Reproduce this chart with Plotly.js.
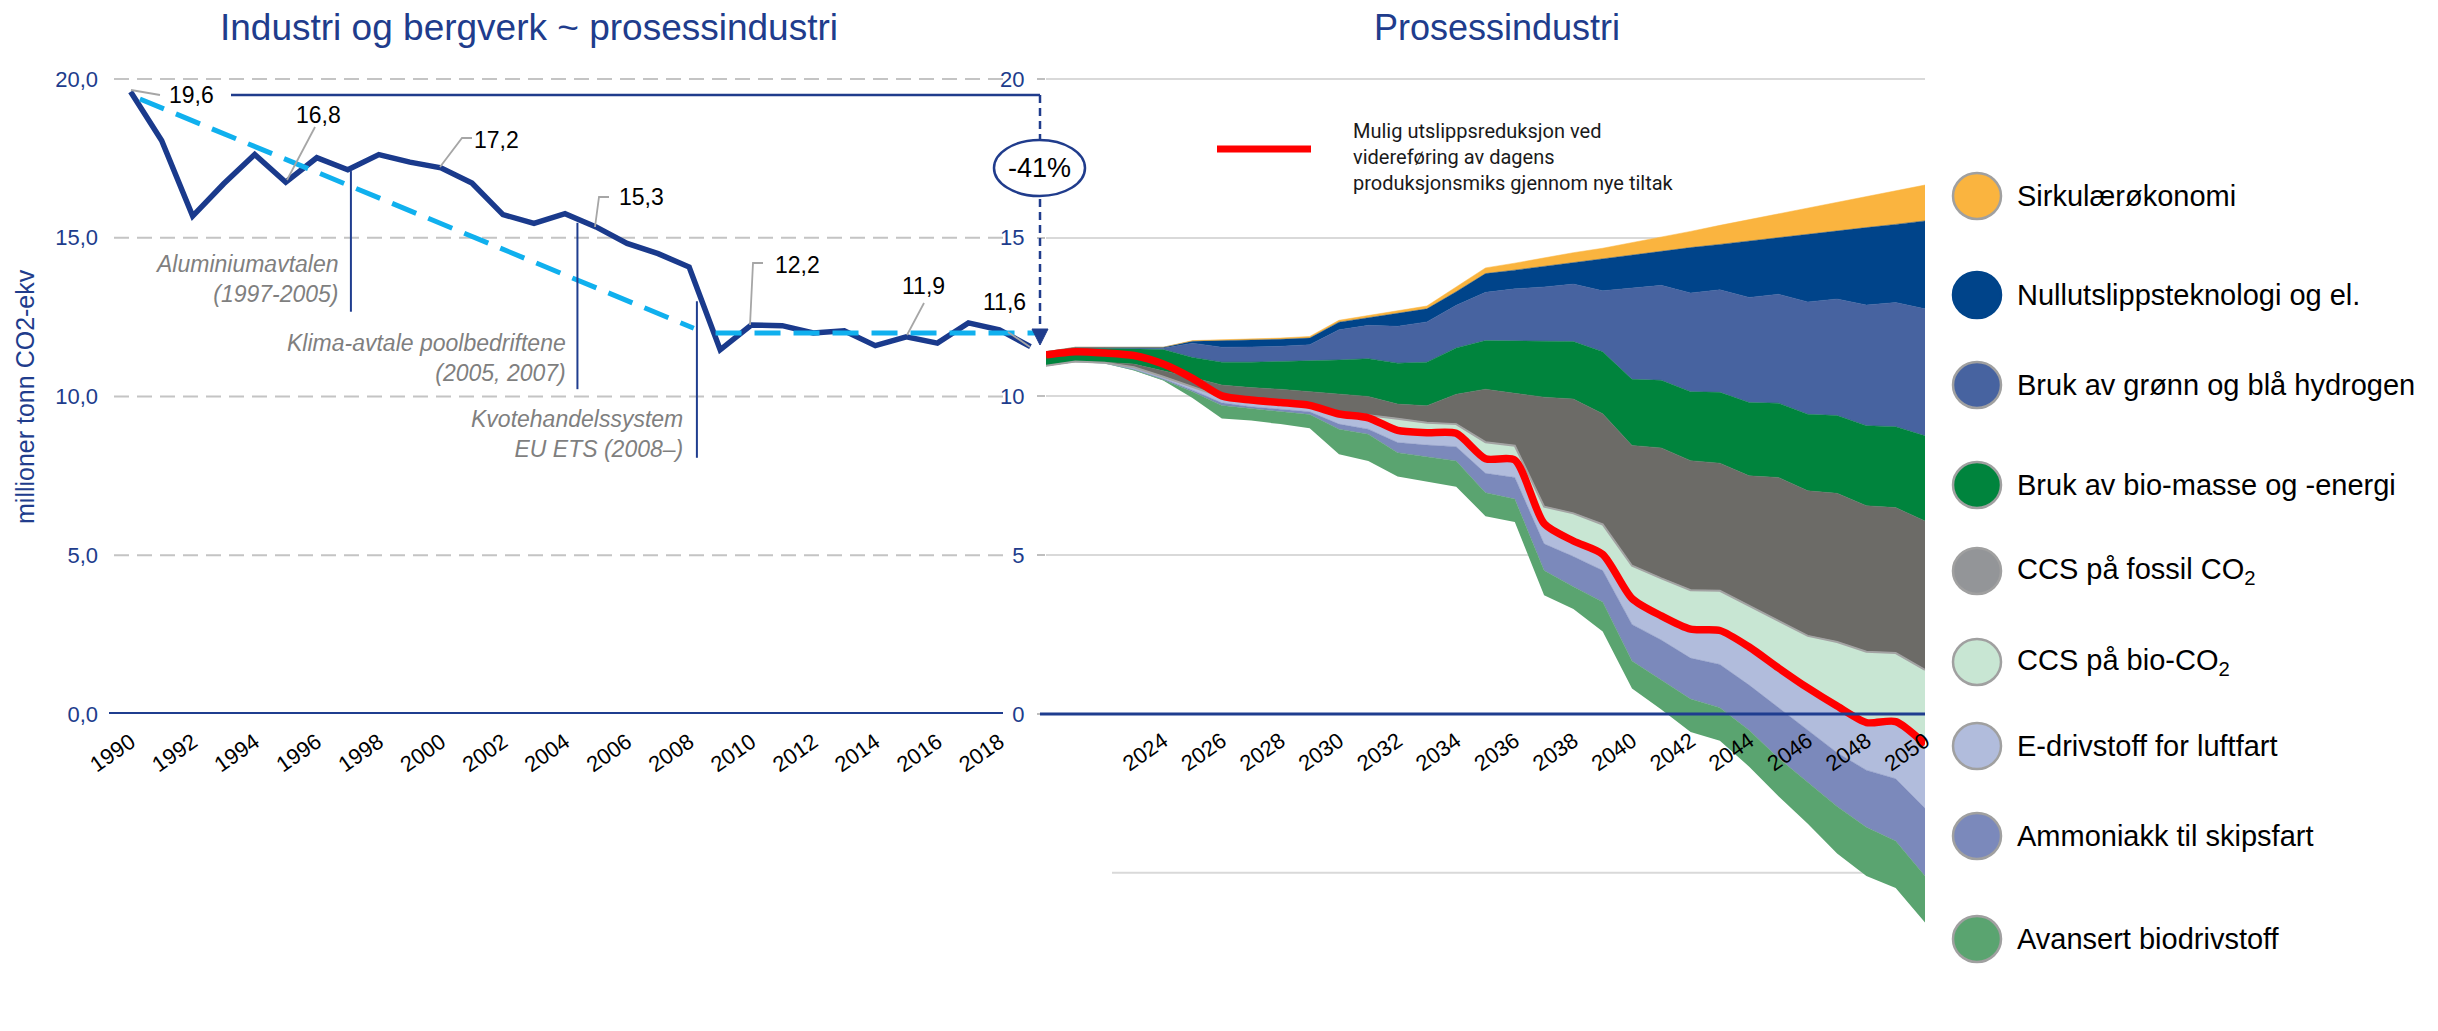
<!DOCTYPE html>
<html>
<head>
<meta charset="utf-8">
<script src="https://cdn.plot.ly/plotly-3.0.1.min.js"></script>
<style>
html,body{margin:0;padding:0;background:#fff;}
#chart{width:2438px;height:1031px;}
</style>
</head>
<body>
<div id="chart"></div>
<script>
// ---------- DATA ----------
const histYears = [1990,1991,1992,1993,1994,1995,1996,1997,1998,1999,2000,2001,2002,2003,2004,2005,2006,2007,2008,2009,2010,2011,2012,2013,2014,2015,2016,2017,2018,2019];
const histValues = [19.6,18.06,15.68,16.7,17.62,16.75,17.52,17.14,17.62,17.38,17.2,16.72,15.73,15.45,15.76,15.34,14.82,14.5,14.08,11.47,12.25,12.23,12.0,12.07,11.6,11.88,11.68,12.32,12.1,11.57];
const histTickYears = [1990,1992,1994,1996,1998,2000,2002,2004,2006,2008,2010,2012,2014,2016,2018];

const trendYears = [1990.3, 2008.15];
const trendValues = [19.37, 12.15];
const flatYears = [2008.85, 2019.15];
const flatValues = [12.0, 12.0];

const projYears = [2020,2021,2022,2023,2024,2025,2026,2027,2028,2029,2030,2031,2032,2033,2034,2035,2036,2037,2038,2039,2040,2041,2042,2043,2044,2045,2046,2047,2048,2049,2050];
const projTickYears = [2024,2026,2028,2030,2032,2034,2036,2038,2040,2042,2044,2046,2048,2050];

// upper edges of each band (top of stack first) and the bottom edge
const topSirkulaer   = [11.41,11.55,11.55,11.54,11.55,11.76,11.78,11.81,11.84,11.89,12.4,12.55,12.7,12.85,13.45,14.05,14.2,14.37,14.53,14.67,14.84,15.02,15.2,15.39,15.57,15.75,15.93,16.11,16.3,16.48,16.66];
const topNullutslipp = [11.41,11.55,11.55,11.54,11.55,11.74,11.75,11.78,11.8,11.84,12.34,12.48,12.62,12.76,13.3,13.87,13.98,14.1,14.21,14.34,14.47,14.58,14.69,14.79,14.9,15.0,15.11,15.21,15.32,15.42,15.53];
const topHydrogen    = [11.41,11.53,11.53,11.52,11.52,11.68,11.55,11.56,11.58,11.63,12.1,12.24,12.21,12.35,12.87,13.28,13.39,13.45,13.54,13.33,13.42,13.5,13.26,13.36,13.12,13.22,12.98,13.07,12.88,12.96,12.76];
const topBiomasse    = [11.41,11.52,11.52,11.5,11.48,11.23,11.08,11.08,11.1,11.12,11.15,11.19,11.05,11.08,11.53,11.76,11.75,11.74,11.73,11.41,10.54,10.51,10.15,10.13,9.81,9.79,9.44,9.4,9.08,9.05,8.76];
const topCCSfossil   = [10.97,11.1,11.08,11.02,10.81,10.6,10.36,10.28,10.23,10.15,10.07,10.0,9.76,9.71,10.07,10.23,10.1,9.98,9.92,9.46,8.46,8.38,7.98,7.9,7.5,7.45,7.03,6.95,6.56,6.5,6.08];
const topCCSbio      = [10.97,11.1,11.06,10.92,10.62,10.3,9.98,9.86,9.81,9.76,9.52,9.42,9.3,9.17,9.13,8.56,8.45,6.53,6.32,5.97,4.67,4.27,3.9,3.88,3.41,2.92,2.46,2.27,1.96,1.92,1.39];
const topEdrivstoff  = [10.97,11.1,11.06,10.92,10.62,10.3,9.98,9.86,9.8,9.72,9.45,9.33,8.93,8.86,8.84,8.04,8.0,6.0,5.45,5.03,3.64,3.09,2.67,2.63,2.11,1.45,0.82,0.25,-0.27,-0.24,-0.95];
const topAmmoniakk   = [10.97,11.1,11.05,10.86,10.56,10.2,9.8,9.68,9.6,9.52,9.13,8.97,8.55,8.47,8.42,7.58,7.45,5.36,4.96,4.52,2.82,2.33,1.76,1.56,0.91,0.2,-0.51,-1.22,-1.77,-2.04,-2.97];
const topBiodrivstoff= [10.97,11.1,11.05,10.84,10.53,10.15,9.72,9.62,9.53,9.43,8.97,8.81,8.23,8.1,7.97,6.97,6.77,4.52,4.01,3.53,1.67,1.07,0.47,0.2,-0.51,-1.39,-2.15,-2.91,-3.57,-4.0,-5.1];
const bottomEdge     = [10.97,11.1,11.05,10.82,10.5,9.95,9.31,9.24,9.13,9.0,8.18,7.97,7.48,7.31,7.16,6.23,6.05,3.74,3.31,2.6,0.8,0.14,-0.57,-0.84,-1.66,-2.59,-3.46,-4.39,-5.1,-5.48,-6.57];
const redLine        = [11.31,11.41,11.37,11.29,11.02,10.57,10.02,9.89,9.81,9.72,9.45,9.33,8.93,8.86,8.84,8.04,8.0,6.0,5.45,5.03,3.64,3.09,2.67,2.63,2.11,1.45,0.82,0.25,-0.27,-0.24,-0.95];

const legendLabels = ['Sirkulærøkonomi','Nullutslippsteknologi og el.','Bruk av grønn og blå hydrogen','Bruk av bio-masse og -energi','CCS på fossil CO<sub>2</sub>','CCS på bio-CO<sub>2</sub>','E-drivstoff for luftfart','Ammoniakk til skipsfart','Avansert biodrivstoff'];
const bandColors   = ['#fab43f','#00448a','#4763a0','#00843d','#6c6b67','#c8e6d3','#b1bcdc','#7b89bb','#5aa470'];
const legendDotColors = ['#fab43f','#00448a','#4763a0','#00843d','#939598','#c8e6d3','#b1bcdc','#7b89bb','#5aa470'];

// ---------- HELPERS ----------
const W = 2438, H = 1031;
const X = px => px / W;
const Y = py => 1 - py / H;
const NAVY = '#203c8c';
const FONT = 'Liberation Sans, Arial, sans-serif';

// ---------- TRACES ----------
const traces = [];
traces.push({x: histYears, y: histValues, xaxis:'x', yaxis:'y', mode:'lines', line:{color:'#1a3a8c', width:5.5}, hoverinfo:'skip'});
traces.push({x: trendYears, y: trendValues, xaxis:'x', yaxis:'y', mode:'lines', line:{color:'#10b0ee', width:5, dash:'26px,13px'}, hoverinfo:'skip'});
traces.push({x: flatYears, y: flatValues, xaxis:'x', yaxis:'y', mode:'lines', line:{color:'#10b0ee', width:5, dash:'26px,13px'}, hoverinfo:'skip'});

// stacked bands: bottom edge first, then upper edges from the lowest band to the top band
const bandTops = [topBiodrivstoff, topAmmoniakk, topEdrivstoff, topCCSbio, topCCSfossil, topBiomasse, topHydrogen, topNullutslipp, topSirkulaer];
const bandColorsBottomUp = bandColors.slice().reverse();
traces.push({x: projYears, y: bottomEdge, xaxis:'x2', yaxis:'y2', mode:'lines', line:{width:0, color:'rgba(0,0,0,0)'}, hoverinfo:'skip'});
bandTops.forEach((edge, i) => {
  traces.push({
    x: projYears, y: edge, xaxis:'x2', yaxis:'y2', mode:'lines',
    fill:'tonexty', fillcolor: bandColorsBottomUp[i],
    line: {width:0.5, color:bandColorsBottomUp[i]},
    hoverinfo:'skip'
  });
});
// thin grey edge under the CCS fossil band
traces.push({x: projYears, y: topCCSbio, xaxis:'x2', yaxis:'y2', mode:'lines', line:{width:2, color:'#a3a3a3'}, hoverinfo:'skip'});
traces.push({x: projYears, y: redLine, xaxis:'x2', yaxis:'y2', mode:'lines', line:{color:'#ff0000', width:7.5, shape:'spline', smoothing:0.7}, hoverinfo:'skip'});

// ---------- SHAPES ----------
const shapes = [];
[5,10,15,20].forEach(v => shapes.push({type:'line', xref:'paper', yref:'y', x0:X(114), x1:X(1005), y0:v, y1:v, layer:'below', line:{color:'#c4c4c4', width:2.2, dash:'15px,8px'}}));
shapes.push({type:'line', xref:'paper', yref:'y', x0:X(109), x1:X(1003), y0:0, y1:0, line:{color:'#1f3d8f', width:4}});
shapes.push({type:'line', xref:'paper', yref:'y2', x0:X(1040), x1:X(1925), y0:0, y1:0, line:{color:'#1f3d8f', width:3}});
shapes.push({type:'line', xref:'paper', yref:'y2', x0:X(1112), x1:X(1925), y0:-5, y1:-5, layer:'below', line:{color:'#d9d9d9', width:2}});

// policy markers
shapes.push({type:'line', xref:'x', yref:'y', x0:1997.1, x1:1997.1, y0:17.1, y1:12.67, line:{color:'#1f3d8f', width:2}});
shapes.push({type:'line', xref:'x', yref:'y', x0:2004.4, x1:2004.4, y0:15.47, y1:10.23, line:{color:'#1f3d8f', width:2}});
shapes.push({type:'line', xref:'x', yref:'y', x0:2008.25, x1:2008.25, y0:13.0, y1:8.07, line:{color:'#1f3d8f', width:2}});

// leader lines for value labels
const P = pts => 'M ' + pts.map(p => X(p[0]) + ',' + Y(p[1])).join(' L ');
const leaders = [
  [[131,90],[160,95]],
  [[287,180],[315,127]],
  [[440,167],[462,138],[472,138]],
  [[595,227],[599,197],[609,197]],
  [[750,325],[753,263],[763,263]],
  [[907,335],[924,303]],
  [[1030,347],[1008,332]]
];
leaders.forEach(l => shapes.push({type:'path', xref:'paper', yref:'paper', path:P(l), line:{color:'#a6a6a6', width:1.8}}));

// -41% bracket
shapes.push({type:'line', xref:'paper', yref:'paper', x0:X(231), x1:X(1040), y0:Y(95), y1:Y(95), line:{color:NAVY, width:2.5}});
shapes.push({type:'line', xref:'paper', yref:'paper', x0:X(1040), x1:X(1040), y0:Y(95), y1:Y(331), line:{color:NAVY, width:2.5, dash:'8px,5px'}});
shapes.push({type:'path', xref:'paper', yref:'paper', path:'M '+X(1032)+','+Y(329)+' L '+X(1048)+','+Y(329)+' L '+X(1040)+','+Y(345)+' Z', fillcolor:NAVY, line:{color:NAVY, width:1}});
shapes.push({type:'circle', xref:'paper', yref:'paper', x0:X(994), x1:X(1085), y0:Y(196), y1:Y(140), fillcolor:'#ffffff', line:{color:NAVY, width:2.5}});

// red line legend
shapes.push({type:'line', xref:'paper', yref:'paper', x0:X(1217), x1:X(1311), y0:Y(149), y1:Y(149), line:{color:'#ff0000', width:7}});

// custom legend dots
const legendRows = [196,295,385,485,571,662,746,836,939];
legendLabels.forEach((t,i) => {
  const cy = legendRows[i];
  shapes.push({type:'circle', xref:'paper', yref:'paper', x0:X(1953), x1:X(2001), y0:Y(cy+23), y1:Y(cy-23),
    fillcolor: legendDotColors[i], line:{color: i===1 ? legendDotColors[i] : '#a0a0a0', width:2.5}});
});

// ---------- ANNOTATIONS ----------
const ann = [];
const A = (text, px, py, opts) => Object.assign({text, xref:'paper', yref:'paper', x:X(px), y:Y(py), showarrow:false, xanchor:'center', yanchor:'middle', font:{family:FONT, size:22, color:'#000'}}, opts||{});

ann.push(A('Industri og bergverk ~ prosessindustri', 529, 28, {font:{family:FONT, size:37, color:NAVY}}));
ann.push(A('Prosessindustri', 1497, 28, {font:{family:FONT, size:36, color:NAVY}}));
ann.push(A('millioner tonn CO2-ekv', 25, 397, {textangle:-90, font:{family:FONT, size:25, color:NAVY}}));

const valueLabels = [['19,6',191,95],['16,8',318,115],['17,2',496,140],['15,3',641,197],['12,2',797,265],['11,9',924,286],['11,6',1005,302]];
valueLabels.forEach(v => ann.push(A(v[0], v[1], v[2], {font:{family:FONT, size:23, color:'#000'}})));

const policyFont = {family:FONT, size:23, color:'#7f7f7f'};
ann.push(A('<i>Aluminiumavtalen</i><br><i>(1997-2005)</i>', 341, 279, {xanchor:'right', align:'right', font:policyFont}));
ann.push(A('<i>Klima-avtale poolbedriftene</i><br><i>(2005, 2007)</i>', 568, 358, {xanchor:'right', align:'right', font:policyFont}));
ann.push(A('<i>Kvotehandelssystem</i><br><i>EU ETS (2008–)</i>', 685, 434, {xanchor:'right', align:'right', font:policyFont}));

ann.push(A('-41%', 1039, 168, {font:{family:FONT, size:27, color:'#000'}}));

ann.push(A('Mulig utslippsreduksjon ved<br>videreføring av dagens<br>produksjonsmiks gjennom nye tiltak', 1351, 157,
  {xanchor:'left', align:'left', font:{family:'Roboto, Noto Sans, sans-serif', size:20, color:'#1a1a1a'}}));

legendLabels.forEach((t,i) => ann.push(A(t, 2015, legendRows[i], {xanchor:'left', font:{family:FONT, size:29, color:'#000'}})));

// ---------- LAYOUT ----------
const layout = {
  width: W, height: H,
  margin:{l:0, r:0, t:0, b:0, pad:0},
  paper_bgcolor:'#ffffff', plot_bgcolor:'rgba(0,0,0,0)',
  showlegend:false,
  font:{family:FONT},
  xaxis:{domain:[X(105), X(1040)], range:[1989.175, 2019.307], anchor:'y',
    tickmode:'array', tickvals:histTickYears, ticktext:histTickYears.map(String), tickangle:-35,
    tickfont:{family:FONT, size:22, color:'#000'}, showgrid:false, zeroline:false, showline:false, ticks:'', ticklabelstandoff:10, fixedrange:true},
  yaxis:{domain:[Y(714), Y(60)], range:[0, 20.598], anchor:'x',
    tickmode:'array', tickvals:[0,5,10,15,20], ticktext:['0,0','5,0','10,0','15,0','20,0'],
    tickfont:{family:FONT, size:22, color:NAVY}, showgrid:false, zeroline:false, showline:false, ticks:'', ticklabelstandoff:6, fixedrange:true},
  xaxis2:{domain:[X(1046), X(1925)], range:[2020, 2050], anchor:'free', position:Y(714),
    tickmode:'array', tickvals:projTickYears, ticktext:projTickYears.map(String), tickangle:-35,
    tickfont:{family:FONT, size:22, color:'#000'}, showgrid:false, zeroline:false, showline:false, ticks:'', ticklabelstandoff:9, fixedrange:true},
  yaxis2:{domain:[Y(940), Y(60)], range:[-7.118, 20.598], anchor:'x2',
    tickmode:'array', tickvals:[0,5,10,15,20], ticktext:['0','5','10','15','20'],
    tickfont:{family:FONT, size:22, color:NAVY}, showgrid:true, gridcolor:'#d9d9d9', gridwidth:2,
    zeroline:false, showline:false, ticks:'outside', ticklen:8, tickwidth:2, tickcolor:'#bfbfbf', ticklabelstandoff:8, fixedrange:true},
  shapes: shapes,
  annotations: ann
};

Plotly.newPlot('chart', traces, layout, {displayModeBar:false, staticPlot:true});
</script>
</body>
</html>
